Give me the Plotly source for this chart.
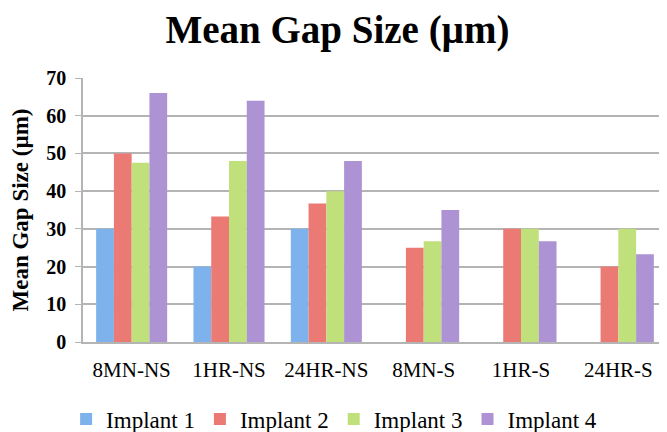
import plotly.graph_objects as go

categories = ["8MN-NS", "1HR-NS", "24HR-NS", "8MN-S", "1HR-S", "24HR-S"]
implant1 = [30, 20, 30, 0, 0, 0]
implant2 = [50, 33.3, 36.7, 25, 30, 20]
implant3 = [47.5, 48, 40, 26.7, 30, 30]
implant4 = [66, 64, 48, 35, 26.7, 23.3]
series_names = ["Implant 1", "Implant 2", "Implant 3", "Implant 4"]
series_values = [implant1, implant2, implant3, implant4]
colors = ["#7eb2ec", "#ea7a73", "#bfe07a", "#ad93d3"]

font_family = "Liberation Serif, DejaVu Serif, serif"

fig = go.Figure()
for name, vals, col in zip(series_names, series_values, colors):
    fig.add_trace(go.Bar(x=categories, y=vals, name=name,
                         marker=dict(color=col, line=dict(width=0))))

fig.update_layout(
    width=659, height=424,
    paper_bgcolor="white", plot_bgcolor="white",
    barmode="group", bargap=0.27, bargroupgap=0,
    margin=dict(l=75, r=0, t=70, b=90, autoexpand=False),
    title=dict(text="<b>Mean Gap Size (µm)</b>", x=0.5, xanchor="center",
               yref="container", y=0.95, yanchor="middle",
               font=dict(family=font_family, size=39, color="black")),
    font=dict(family=font_family, color="black"),
    legend=dict(orientation="h", x=0.43, xanchor="center", y=-0.21, yanchor="top",
                font=dict(size=23, color="black"), itemwidth=30,
                traceorder="normal"),
    showlegend=True,
)
fig.update_yaxes(range=[0, 70], dtick=10, showgrid=True, gridcolor="#b4b4b4",
                 gridwidth=1.5, showline=True, linecolor="#b4b4b4", linewidth=1.5,
                 ticks="outside", ticklen=6, tickcolor="#b4b4b4",
                 tickfont=dict(size=20, family=font_family),
                 tickprefix="<b>", ticksuffix="</b>", automargin=False,
                 ticklabelstandoff=5,
                 title=dict(text="<b>Mean Gap Size (µm)</b>", standoff=13,
                            font=dict(size=23, family=font_family)),
                 zeroline=False)
fig.update_xaxes(showline=True, linecolor="#b4b4b4", linewidth=1.5, automargin=False,
                 tickfont=dict(size=21, family=font_family), ticks="",
                 ticklabelstandoff=8)

fig.write_html("out.html")
